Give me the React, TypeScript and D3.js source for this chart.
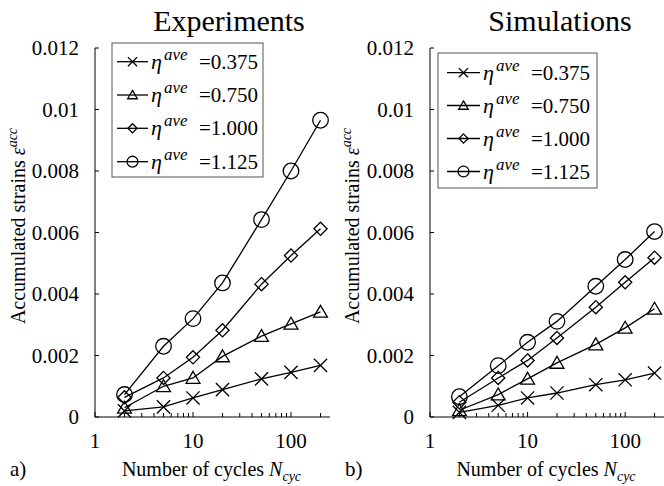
import React from "react";
import * as d3 from "d3";

const cycles = [2, 5, 10, 20, 50, 100, 200];
const etaLabels = ["0.375", "0.750", "1.000", "1.125"];
const markerTypes = ["cross", "triangle", "diamond", "circle"];

const exp375 = [0.0002, 0.00033, 0.00062, 0.00089, 0.00124, 0.00145, 0.00168];
const exp750 = [0.0003, 0.001, 0.00127, 0.00197, 0.00263, 0.00303, 0.00342];
const exp1000 = [0.00064, 0.00127, 0.00194, 0.00282, 0.00432, 0.00525, 0.00612];
const exp1125 = [0.00073, 0.0023, 0.0032, 0.00436, 0.00642, 0.008, 0.00965];

const sim375 = [0.00015, 0.00038, 0.00062, 0.00078, 0.00105, 0.00121, 0.00143];
const sim750 = [0.00022, 0.00073, 0.00124, 0.00176, 0.00236, 0.0029, 0.00352];
const sim1000 = [0.00048, 0.00127, 0.00184, 0.00257, 0.00357, 0.00438, 0.00518];
const sim1125 = [0.00066, 0.00167, 0.00243, 0.00311, 0.00425, 0.00512, 0.00603];

const yTicks = [0, 0.002, 0.004, 0.006, 0.008, 0.01, 0.012];
const yTickLabels = ["0", "0.002", "0.004", "0.006", "0.008", "0.01", "0.012"];
const xMajor = [1, 10, 100];
const xMinor = [2, 3, 4, 5, 6, 7, 8, 9, 20, 30, 40, 50, 60, 70, 80, 90, 200];

const FONT = '"Liberation Serif", "Times New Roman", Times, serif';

function Marker({ type, x, y, s }: { type: string; x: number; y: number; s: number }) {
  const common = { fill: "none", stroke: "#000", strokeWidth: 1.3 };
  if (type === "cross") {
    return (
      <path
        d={`M${x - s},${y - s}L${x + s},${y + s}M${x - s},${y + s}L${x + s},${y - s}`}
        {...common}
      />
    );
  }
  if (type === "triangle") {
    const h = s * 1.8;
    const w = s * 1.05;
    return (
      <path
        d={`M${x},${y - h * 0.55}L${x + w},${y + h * 0.45}L${x - w},${y + h * 0.45}Z`}
        {...common}
      />
    );
  }
  if (type === "diamond") {
    return <path d={`M${x},${y - s}L${x + s},${y}L${x},${y + s}L${x - s},${y}Z`} {...common} />;
  }
  return <circle cx={x} cy={y} r={s * 1.18} {...common} />;
}

function Panel({
  x0,
  x1,
  title,
  titleX,
  letter,
  series,
  legend,
  yLabelX,
}: {
  x0: number;
  x1: number;
  title: string;
  titleX: number;
  letter: string;
  series: number[][];
  legend: { left: number; top: number; right: number; bottom: number; rows: number[]; lineX0: number; lineX1: number; textX: number };
  yLabelX: number;
}) {
  const xs = d3.scaleLog().domain([1, 250]).range([x0, x1]);
  const ys = d3.scaleLinear().domain([0, 0.012]).range([417, 48]);
  const line = d3
    .line<number>()
    .x((_, i) => xs(cycles[i]))
    .y((d) => ys(d));
  return (
    <g style={{ fontFamily: FONT }} fill="#000">
      <text x={titleX} y={31} fontSize={30} textAnchor="middle">
        {title}
      </text>
      {/* axes */}
      <line x1={x0} x2={x0} y1={ys(0.012)} y2={ys(0)} stroke="#000" strokeWidth={1} />
      <line x1={x0} x2={x1} y1={ys(0)} y2={ys(0)} stroke="#000" strokeWidth={1} />
      {yTicks.map((t, i) => (
        <g key={t}>
          <line x1={x0} x2={x0 + 4} y1={ys(t)} y2={ys(t)} stroke="#000" />
          <text x={x0 - 16} y={ys(t) + 7} fontSize={21} textAnchor="end">
            {yTickLabels[i]}
          </text>
        </g>
      ))}
      {xMajor.map((t) => (
        <g key={t}>
          <line x1={xs(t)} x2={xs(t)} y1={ys(0)} y2={ys(0) - 5} stroke="#000" />
          <text x={xs(t)} y={448} fontSize={21} textAnchor="middle">
            {String(t)}
          </text>
        </g>
      ))}
      {xMinor.map((t) => (
        <line key={t} x1={xs(t)} x2={xs(t)} y1={ys(0)} y2={ys(0) - 4} stroke="#000" />
      ))}
      <text
        transform={`translate(${yLabelX},${226}) rotate(-90)`}
        fontSize={20}
        textAnchor="middle"
      >
        Accumulated strains{" "}
        <tspan fontStyle="italic">ε</tspan>
        <tspan fontStyle="italic" fontSize={14} dy={-8}>
          acc
        </tspan>
      </text>
      <text x={(x0 + x1) / 2 - 1} y={476} fontSize={20} textAnchor="middle">
        Number of cycles <tspan fontStyle="italic">N</tspan>
        <tspan fontStyle="italic" fontSize={14} dy={5}>
          cyc
        </tspan>
      </text>
      <text x={x0 - 85} y={476} fontSize={21}>
        {letter}
      </text>
      {/* series */}
      {series.map((s, si) => (
        <g key={si}>
          <path d={line(s) || ""} fill="none" stroke="#000" strokeWidth={1.3} />
          {s.map((v, i) => (
            <Marker key={i} type={markerTypes[si]} x={xs(cycles[i])} y={ys(v)} s={6.6} />
          ))}
        </g>
      ))}
      {/* legend */}
      <rect
        x={legend.left}
        y={legend.top}
        width={legend.right - legend.left}
        height={legend.bottom - legend.top}
        fill="#fff"
        stroke="#555"
        strokeWidth={1}
      />
      {etaLabels.map((lab, i) => {
        const y = legend.rows[i];
        return (
          <g key={lab}>
            <line x1={legend.lineX0} x2={legend.lineX1} y1={y} y2={y} stroke="#000" strokeWidth={1.3} />
            <Marker type={markerTypes[i]} x={(legend.lineX0 + legend.lineX1) / 2} y={y} s={4.6} />
            <text x={legend.textX} y={y + 7} fontSize={22}>
              <tspan fontStyle="italic">η</tspan>
              <tspan fontStyle="italic" fontSize={17} dx={2} dy={-9}>
                ave
              </tspan>
            </text>
            <text x={legend.textX + 48} y={y + 7} fontSize={21}>
              ={lab}
            </text>
          </g>
        );
      })}
    </g>
  );
}

export default function App() {
  return (
    <svg
      width={664}
      height={486}
      viewBox="0 0 664 486"
      style={{ position: "absolute", left: 0, top: 0, background: "#fff", fontFamily: FONT }}
    >
      <rect width={664} height={486} fill="#fff" />
      <Panel
        x0={95}
        x1={330}
        title="Experiments"
        titleX={229}
        letter="a)"
        series={[exp375, exp750, exp1000, exp1125]}
        yLabelX={25}
        legend={{ left: 112, top: 43, right: 263, bottom: 177, rows: [61.7, 95, 128.3, 161.7], lineX0: 117, lineX1: 148, textX: 151 }}
      />
      <Panel
        x0={430}
        x1={664}
        title="Simulations"
        titleX={560}
        letter="b)"
        series={[sim375, sim750, sim1000, sim1125]}
        yLabelX={359}
        legend={{ left: 438, top: 53, right: 597, bottom: 188, rows: [72.7, 105.5, 138.5, 171.5], lineX0: 447, lineX1: 480, textX: 483 }}
      />
    </svg>
  );
}
